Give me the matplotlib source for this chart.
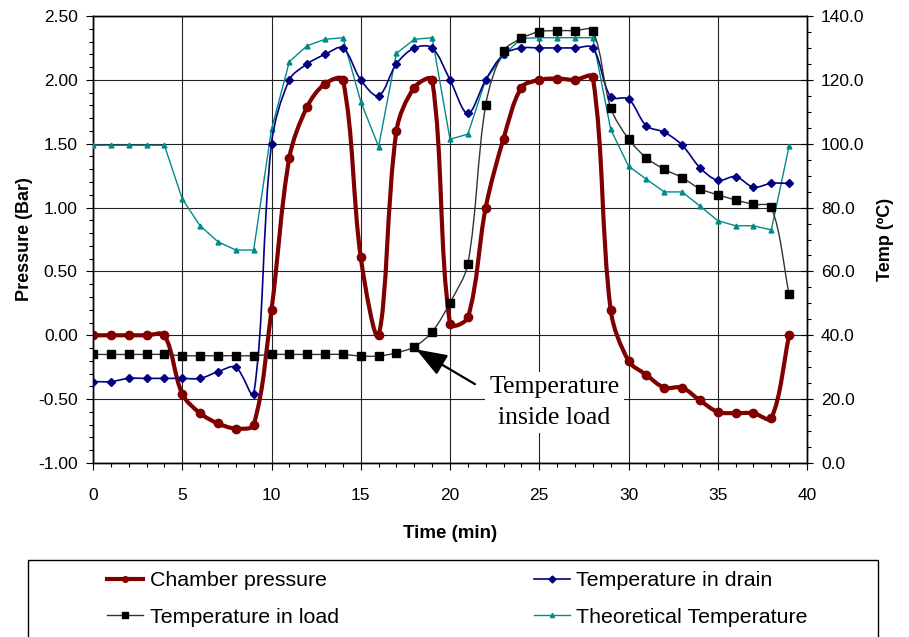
import matplotlib
matplotlib.use("Agg")
import numpy as np
import matplotlib.pyplot as plt
from matplotlib.path import Path
from matplotlib.patches import PathPatch, Rectangle
from matplotlib.lines import Line2D
from matplotlib.ticker import MultipleLocator, FormatStrFormatter

plt.rcParams['font.family'] = ['Liberation Sans', 'DejaVu Sans']
plt.rcParams['axes.unicode_minus'] = False

time = [0, 1, 2, 3, 4, 5, 6, 7, 8, 9,
        10, 11, 12, 13, 14, 15, 16, 17, 18, 19,
        20, 21, 22, 23, 24, 25, 26, 27, 28, 29,
        30, 31, 32, 33, 34, 35, 36, 37, 38, 39]

# bar
pressure = [0.00, 0.00, 0.00, 0.00, 0.00, -0.46, -0.61, -0.69, -0.73, -0.70,
            0.20, 1.39, 1.79, 1.97, 2.00, 0.61, 0.00, 1.60, 1.94, 2.00,
            0.09, 0.14, 1.00, 1.54, 1.94, 2.00, 2.01, 2.00, 2.02, 0.20,
            -0.20, -0.31, -0.41, -0.41, -0.51, -0.60, -0.61, -0.61, -0.65, 0.00]

# degC
drain = [25.5, 25.5, 26.5, 26.5, 26.5, 26.5, 26.5, 28.6, 30.0, 21.5,
         100.0, 120.0, 125.0, 128.0, 130.0, 120.0, 115.0, 125.0, 130.0, 130.0,
         120.0, 109.5, 120.0, 128.0, 130.0, 130.0, 130.0, 130.0, 130.0, 114.7,
         114.0, 105.6, 103.6, 99.6, 92.5, 88.5, 89.7, 86.4, 87.6, 87.6]

load = [34.0, 34.0, 34.0, 34.0, 34.0, 33.6, 33.6, 33.6, 33.6, 33.6,
        34.0, 34.0, 34.0, 34.0, 34.0, 33.5, 33.5, 34.5, 36.4, 41.1,
        50.2, 62.4, 112.1, 129.0, 133.0, 135.1, 135.4, 135.4, 135.4, 111.3,
        101.5, 95.6, 92.0, 89.4, 85.9, 84.0, 82.4, 81.0, 80.1, 52.8]

theory = [99.5, 99.5, 99.5, 99.5, 99.5, 82.7, 74.3, 69.3, 66.7, 66.7,
          104.5, 125.7, 130.7, 132.7, 133.2, 113.2, 99.1, 128.3, 132.7, 133.2,
          101.4, 103.0, 120.0, 127.8, 133.0, 133.2, 133.2, 133.2, 133.2, 104.5,
          93.0, 88.9, 84.9, 84.9, 80.5, 75.9, 74.3, 74.3, 73.0, 99.3]


def smooth_patch(a, x, y, **kw):
    # excel style smoothed line, bezier control points worked out on screen
    pts = a.transData.transform(np.column_stack([x, y]))
    n = len(pts)
    verts = [pts[0]]
    codes = [Path.MOVETO]
    for i in range(n - 1):
        p0 = pts[max(i - 1, 0)]
        p1 = pts[i]
        p2 = pts[i + 1]
        p3 = pts[min(i + 2, n - 1)]
        d01 = np.hypot(*(p1 - p0))
        d12 = np.hypot(*(p2 - p1))
        d23 = np.hypot(*(p3 - p2))
        c1 = p1 + (p2 - p0) * d12 / (3 * (d01 + d12))
        c2 = p2 - (p3 - p1) * d12 / (3 * (d12 + d23))
        verts += [c1, c2, p2]
        codes += [Path.CURVE4, Path.CURVE4, Path.CURVE4]
    verts = a.transData.inverted().transform(np.array(verts))
    return PathPatch(Path(verts, codes), fill=False, **kw)


fig = plt.figure(figsize=(9.09, 6.37), dpi=100)
ax = fig.add_axes([93 / 909, 1 - 463 / 637, (807 - 93) / 909, (463 - 16) / 637])
ax2 = ax.twinx()

red = '#800000'
navy = '#000080'
teal = '#008a8a'

ax.set_xlim(0, 40)
ax.set_ylim(-1.0, 2.5)
ax2.set_ylim(0, 140)

ax.grid(True, which='major', color='#222222', linewidth=0.8)
ax.set_axisbelow(True)

ax.add_patch(smooth_patch(ax, time, pressure, edgecolor=red, linewidth=3.0, zorder=3))
ax.plot(time, pressure, ls='none', marker='o', ms=6, color=red, zorder=4)

ax2.plot(time, theory, color=teal, linewidth=1.0, marker='^', ms=3.5, zorder=3)
ax2.add_patch(smooth_patch(ax2, time, drain, edgecolor=navy, linewidth=1.2, zorder=3))
ax2.plot(time, drain, ls='none', marker='D', ms=4.5, color=navy, zorder=4)
ax2.add_patch(smooth_patch(ax2, time, load, edgecolor='#333333', linewidth=1.0, zorder=3))
ax2.plot(time, load, ls='none', marker='s', ms=5.5, color='black', zorder=4)

ax.xaxis.set_major_locator(MultipleLocator(5))
ax.xaxis.set_minor_locator(MultipleLocator(1))
ax.yaxis.set_major_locator(MultipleLocator(0.5))
ax.yaxis.set_minor_locator(MultipleLocator(0.1))
ax.yaxis.set_major_formatter(FormatStrFormatter('%.2f'))
ax2.yaxis.set_major_locator(MultipleLocator(20))
ax2.yaxis.set_minor_locator(MultipleLocator(5))
ax2.yaxis.set_major_formatter(FormatStrFormatter('%.1f'))

ax.tick_params(axis='both', which='major', direction='out', length=5, width=0.8,
               labelsize=12.5, pad=6)
ax.tick_params(axis='x', which='major', pad=13)
ax.tick_params(axis='both', which='minor', direction='out', length=3, width=0.8)
ax2.tick_params(axis='y', which='major', direction='inout', length=8, width=0.8,
                labelsize=12.5, pad=6)
ax2.tick_params(axis='y', which='minor', direction='out', length=3, width=0.8)

for a in (ax, ax2):
    for s in a.spines.values():
        s.set_linewidth(1.0)

ax.set_xlabel('Time (min)', fontsize=13.5, fontweight='bold', labelpad=16)
ax.set_ylabel('Pressure (Bar)', fontsize=13, fontweight='bold', labelpad=4)
ax2.set_ylabel('Temp (ºC)', fontsize=13, fontweight='bold', labelpad=9)

ax2.text(25.86, 18.9, 'Temperature\ninside load', ha='center', va='center',
         fontsize=18.5, family=['Liberation Serif', 'DejaVu Serif'], linespacing=1.55,
         bbox=dict(facecolor='white', edgecolor='none', pad=3), zorder=5)
ax2.annotate('', xy=(18.1, 35.6), xytext=(21.4, 24.7),
             arrowprops=dict(arrowstyle='-|>,head_length=0.95,head_width=0.35',
                             mutation_scale=20, color='black', lw=1.6,
                             shrinkA=0, shrinkB=0), zorder=6)

fig.patches.append(Rectangle((28 / 909, -0.1), 850 / 909, 0.1 + 1 - 560 / 637,
                             transform=fig.transFigure, fill=False,
                             edgecolor='black', linewidth=1.0))

handles = [
    Line2D([], [], color=red, lw=3.0, marker='o', ms=4),
    Line2D([], [], color='#333333', lw=1.0, marker='s', ms=4, mfc='black', mec='black'),
    Line2D([], [], color=navy, lw=1.2, marker='D', ms=3.5),
    Line2D([], [], color=teal, lw=1.0, marker='^', ms=3),
]
labels = ['Chamber pressure', 'Temperature in load',
          'Temperature in drain', 'Theoretical Temperature']
fig.legend(handles, labels, ncol=2, loc='upper left',
           bbox_to_anchor=(107 / 909, 1 - 571 / 637), frameon=False,
           fontsize=15.4, borderpad=0, borderaxespad=0, handlelength=1.7,
           handletextpad=0.3, columnspacing=9.1, labelspacing=0.83)

fig.savefig('out.png', dpi=100)
